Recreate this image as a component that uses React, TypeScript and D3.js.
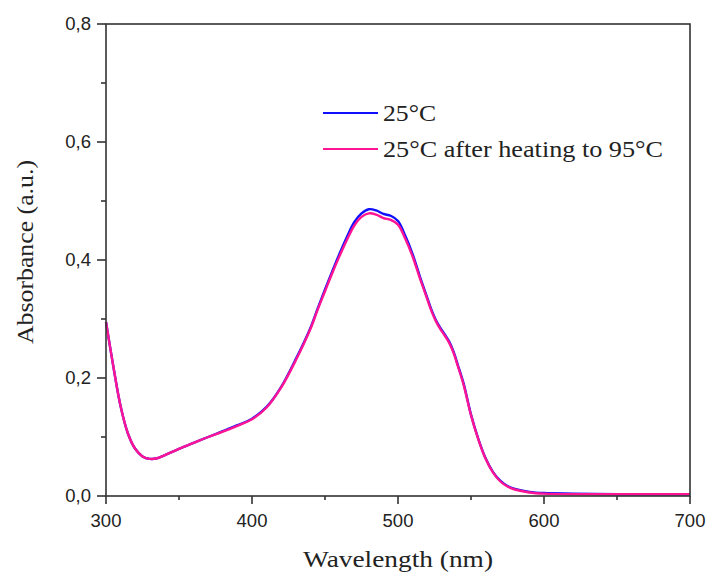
import * as d3 from "d3";

const WIDTH = 709;
const HEIGHT = 574;
const MARGIN = { top: 24, right: 19, bottom: 78, left: 106 };

// wavelength grid (nm)
const wavelengths = [
  300, 305, 310, 315, 320, 325, 330, 335, 340, 350, 360, 370, 380, 390, 400,
  410, 420, 430, 440, 445, 450, 455, 460, 465, 470, 475, 480, 485, 490, 495,
  500, 505, 510, 515, 520, 523, 526, 529, 532, 535, 538, 541, 545, 550, 555,
  560, 565, 570, 575, 580, 590, 600, 620, 650, 700,
];

// 25°C
const absBefore = [
  0.295, 0.22, 0.152, 0.106, 0.08, 0.067, 0.063, 0.064, 0.069, 0.08, 0.09,
  0.1, 0.11, 0.12, 0.131, 0.151, 0.185, 0.232, 0.285, 0.318, 0.35, 0.381,
  0.411, 0.439, 0.464, 0.479, 0.486, 0.484, 0.478, 0.475, 0.466, 0.441, 0.41,
  0.372, 0.336, 0.315, 0.298, 0.285, 0.274, 0.262, 0.245, 0.222, 0.19, 0.138,
  0.097, 0.064, 0.041, 0.026, 0.017, 0.012, 0.007, 0.005, 0.004, 0.003, 0.003,
];

// 25°C after heating to 95°C
const absAfter = [
  0.295, 0.22, 0.152, 0.106, 0.08, 0.067, 0.063, 0.064, 0.069, 0.08, 0.09,
  0.1, 0.109, 0.119, 0.13, 0.15, 0.184, 0.23, 0.283, 0.316, 0.347, 0.378,
  0.407, 0.434, 0.458, 0.473, 0.479, 0.477, 0.471, 0.468, 0.46, 0.436, 0.406,
  0.369, 0.334, 0.313, 0.296, 0.283, 0.272, 0.26, 0.243, 0.22, 0.188, 0.137,
  0.096, 0.063, 0.04, 0.025, 0.016, 0.011, 0.006, 0.004, 0.003, 0.003, 0.003,
];

const xTicks = [300, 400, 500, 600, 700];
const xMinor = [350, 450, 550, 650];
const yTicks = [0, 0.2, 0.4, 0.6, 0.8];
const yMinor = [0.1, 0.3, 0.5, 0.7];

const series = [
  { label: "25°C", values: absBefore, color: "#1010ff", len: 53 },
  {
    label: "25°C after heating to 95°C",
    values: absAfter,
    color: "#ff1493",
    len: 280,
  },
];

const AXIS = "#333";
const SERIF = "'Liberation Serif', 'DejaVu Serif', serif";
const SANS = "'Liberation Sans', Arial, sans-serif";

export default function App() {
  const boundsWidth = WIDTH - MARGIN.left - MARGIN.right;
  const boundsHeight = HEIGHT - MARGIN.top - MARGIN.bottom;

  const xScale = d3.scaleLinear().domain([300, 700]).range([0, boundsWidth]);
  const yScale = d3.scaleLinear().domain([0, 0.8]).range([boundsHeight, 0]);

  const line = d3
    .line<number>()
    .x((_, i) => xScale(wavelengths[i]))
    .y((d) => yScale(d))
    .curve(d3.curveCatmullRom.alpha(0.5));

  const fmt = (v: number) => d3.format(".1f")(v).replace(".", ",");

  return (
    <div style={{ position: "absolute", left: 0, top: 0 }}>
      <svg width={WIDTH} height={HEIGHT}>
        <rect width={WIDTH} height={HEIGHT} fill="white" />
        <g transform={`translate(${MARGIN.left},${MARGIN.top})`}>
          {series.map((s) => (
            <path
              key={s.label}
              d={line(s.values) ?? ""}
              fill="none"
              stroke={s.color}
              strokeWidth={2.4}
            />
          ))}

          {/* frame */}
          <rect
            width={boundsWidth}
            height={boundsHeight}
            fill="none"
            stroke={AXIS}
            strokeWidth={1.6}
          />

          {/* x ticks */}
          {xTicks.map((t) => (
            <g key={t} transform={`translate(${xScale(t)},${boundsHeight})`}>
              <line y2={8} stroke={AXIS} strokeWidth={1.6} />
              <text
                y={31}
                textAnchor="middle"
                fontFamily={SANS}
                fontSize={18.5}
                fill="#222"
              >
                {t}
              </text>
            </g>
          ))}
          {xMinor.map((t) => (
            <line
              key={t}
              x1={xScale(t)}
              x2={xScale(t)}
              y1={boundsHeight}
              y2={boundsHeight + 4}
              stroke={AXIS}
              strokeWidth={1.6}
            />
          ))}

          {/* y ticks */}
          {yTicks.map((t) => (
            <g key={t} transform={`translate(0,${yScale(t)})`}>
              <line x2={-9} stroke={AXIS} strokeWidth={1.6} />
              <text
                x={-15}
                dy="0.35em"
                textAnchor="end"
                fontFamily={SANS}
                fontSize={18.5}
                fill="#222"
              >
                {fmt(t)}
              </text>
            </g>
          ))}
          {yMinor.map((t) => (
            <line
              key={t}
              x1={0}
              x2={-5}
              y1={yScale(t)}
              y2={yScale(t)}
              stroke={AXIS}
              strokeWidth={1.6}
            />
          ))}

          {/* legend */}
          {series.map((s, i) => (
            <g key={s.label} transform={`translate(217,${89 + i * 36})`}>
              <line x1={0} x2={55} stroke={s.color} strokeWidth={2.2} />
              <text
                x={60}
                y={8}
                fontFamily={SERIF}
                fontSize={24}
                fill="#222"
                textLength={s.len}
                lengthAdjust="spacingAndGlyphs"
              >
                {s.label}
              </text>
            </g>
          ))}
        </g>

        {/* axis titles */}
        <text
          x={398}
          y={567}
          textAnchor="middle"
          fontFamily={SERIF}
          fontSize={24}
          fill="#222"
          textLength={190}
          lengthAdjust="spacingAndGlyphs"
        >
          Wavelength (nm)
        </text>
        <text
          transform="translate(33,252) rotate(-90)"
          textAnchor="middle"
          fontFamily={SERIF}
          fontSize={24}
          fill="#222"
          textLength={184}
          lengthAdjust="spacingAndGlyphs"
        >
          Absorbance (a.u.)
        </text>
      </svg>
    </div>
  );
}
